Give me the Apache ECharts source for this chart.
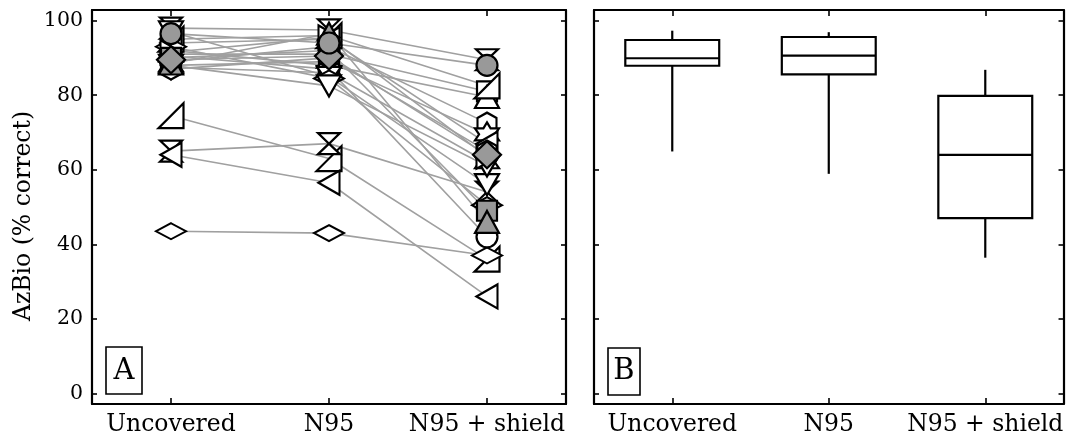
<!DOCTYPE html>
<html>
<head>
<meta charset="utf-8">
<script src="https://cdn.jsdelivr.net/npm/echarts/dist/echarts.min.js"></script>
<style>
html,body{margin:0;padding:0;background:#fff;}
#chart{width:1066px;height:441px;}
</style>
</head>
<body>
<div id="chart"></div>
<script>
// ---- data ----
const categories = ['Uncovered', 'N95', 'N95 + shield'];
const yTicks = [0, 20, 40, 60, 80, 100];
const yMin = -2.85;
const yMax = 102.85;

// Panel A: per-subject scores
const shapes    = ['hourglass','rightTri','hourglass','leftTri','diamondFlat','rect','triangle','rightTri','hexagon','star','downTri','circle','star','leftTri','diamondFlat','downTri','rightArrow','hexagon','rect','triangle','diamond','circle'];
const fills     = ['w','w','w','w','w','w','w','w','w','w','w','w','w','w','w','w','w','w','g','g','g','g'];
const uncovered = [98, 74.5, 65, 64, 43.5, 91, 92, 95, 89, 88, 97, 90.5, 87.5, 94, 93, 88, 91.5, 87, 90, 88.5, 89.5, 96.5];
const n95       = [97.5, 63, 67, 56.5, 43, 91, 88, 96, 93, 89, 85, 87, 86, 95, 84.5, 82.5, 95.5, 90, 92, 96.5, 90.5, 94];
const shield    = [89.5, 36, 54, 26, 37, 81, 79.5, 82.5, 72.5, 69.5, 56, 42, 62, 67, 50.5, 61, 63.5, 65, 49, 46, 64, 88];

// Panel B: box plot statistics
const boxMin = [64.9, 58.9, 36.4];
const boxQ1  = [87.9, 85.6, 47.0];
const boxMed = [89.9, 90.6, 64.0];
const boxQ3  = [94.8, 95.6, 79.8];
const boxMax = [97.3, 96.9, 86.8];

// ---- styles ----
const SERIF = '"DejaVu Serif", serif';
const symbolDefs = {
  circle:      { symbol: 'circle', size: [21, 21] },
  rect:        { symbol: 'rect', size: [20, 20] },
  diamond:     { symbol: 'diamond', size: [28, 27] },
  diamondFlat: { symbol: 'diamond', size: [30, 16] },
  triangle:    { symbol: 'triangle', size: [24, 22] },
  downTri:     { symbol: 'path://M0,0L10,0L5,10Z', size: [24, 21] },
  leftTri:     { symbol: 'path://M10,0L10,10L0,5Z', size: [21, 24] },
  rightArrow:  { symbol: 'path://M0,0L0,10L10,5Z', size: [21, 24] },
  rightTri:    { symbol: 'path://M10,0L10,10L0,10Z', size: [25, 25] },
  hourglass:   { symbol: 'path://M0,0L10,0L5,5L10,10L0,10L5,5Z', size: [22, 21] },
  hexagon:     { symbol: 'path://M5,0L10,2.5L10,7.5L5,10L0,7.5L0,2.5Z', size: [19, 21] },
  star:        { symbol: 'path://M5,0L6.5,2.5L10,2.5L8.3,5L10,7.5L6.5,7.5L5,10L3.5,7.5L0,7.5L1.7,5L0,2.5L3.5,2.5Z', size: [24, 24] }
};
const fillColor = { w: '#ffffff', g: '#999999' };

const series = [];
// connecting lines (behind markers)
for (let i = 0; i < uncovered.length; i++) {
  series.push({
    type: 'line', xAxisIndex: 0, yAxisIndex: 0, silent: true, z: 2,
    symbol: 'none',
    lineStyle: { color: '#a0a0a0', width: 1.6 },
    data: [[0, uncovered[i]], [1, n95[i]], [2, shield[i]]]
  });
}
// markers
const markerData = [];
for (let i = 0; i < uncovered.length; i++) {
  const d = symbolDefs[shapes[i]];
  [uncovered[i], n95[i], shield[i]].forEach((v, k) => {
    markerData.push({
      value: [k, v],
      symbol: d.symbol,
      symbolSize: d.size,
      itemStyle: { color: fillColor[fills[i]], borderColor: '#000', borderWidth: 2.2, opacity: 1 }
    });
  });
}
series.push({
  type: 'scatter', xAxisIndex: 0, yAxisIndex: 0, z: 3, silent: true,
  itemStyle: { opacity: 1 },
  data: markerData
});
// box plot
const boxData = categories.map((c, i) => [i, boxMin[i], boxQ1[i], boxMed[i], boxQ3[i], boxMax[i]]);
series.push({
  type: 'custom', xAxisIndex: 2, yAxisIndex: 2, silent: true,
  encode: { x: 0, y: [1, 2, 3, 4, 5] },
  data: boxData,
  renderItem: function (params, api) {
    const c = api.value(0);
    const top = api.coord([c, api.value(5)]);
    const q3 = api.coord([c, api.value(4)]);
    const med = api.coord([c, api.value(3)]);
    const q1 = api.coord([c, api.value(2)]);
    const bot = api.coord([c, api.value(1)]);
    const hw = api.size([1, 0])[0] * 0.3;
    const x = q3[0];
    const st = { stroke: '#000', lineWidth: 2.2, fill: null };
    return {
      type: 'group',
      children: [
        { type: 'line', shape: { x1: x, y1: top[1], x2: x, y2: q3[1] }, style: st },
        { type: 'line', shape: { x1: x, y1: q1[1], x2: x, y2: bot[1] }, style: st },
        { type: 'rect', shape: { x: x - hw, y: q3[1], width: 2 * hw, height: q1[1] - q3[1] }, style: { stroke: '#000', lineWidth: 2.2, fill: '#fff' } },
        { type: 'line', shape: { x1: x - hw, y1: med[1], x2: x + hw, y2: med[1] }, style: st }
      ]
    };
  }
});

// ---- axes ----
const axLine = { show: true, onZero: false, lineStyle: { color: '#000', width: 2.2 } };
function xAx(grid, pos, labels) {
  return {
    type: 'category', gridIndex: grid, position: pos, data: categories, boundaryGap: true,
    axisLine: axLine,
    axisTick: { show: true, inside: true, alignWithLabel: true, length: 6, lineStyle: { color: '#000', width: 1.6 } },
    axisLabel: labels ? { show: true, color: '#000', fontFamily: SERIF, fontSize: 23.5, margin: 9, interval: 0 } : { show: false },
    splitLine: { show: false }
  };
}
function yAx(grid, pos, labels) {
  return {
    type: 'value', gridIndex: grid, position: pos, min: yMin, max: yMax,
    axisLine: axLine,
    axisTick: { show: true, inside: true, length: 5, customValues: yTicks, lineStyle: { color: '#000', width: 1.6 } },
    axisLabel: labels ? { show: true, customValues: yTicks, color: '#000', fontFamily: SERIF, fontSize: 20.5, margin: 9 } : { show: false },
    splitLine: { show: false }
  };
}

const option = {
  animation: false,
  backgroundColor: '#fff',
  grid: [
    { left: 92, top: 10, width: 474, height: 394 },
    { left: 594, top: 10, width: 472, height: 394 }
  ],
  xAxis: [xAx(0, 'bottom', true), xAx(0, 'top', false), xAx(1, 'bottom', true), xAx(1, 'top', false)],
  yAxis: [yAx(0, 'left', true), yAx(0, 'right', false), yAx(1, 'left', false), yAx(1, 'right', false)],
  series: series,
  graphic: [
    { type: 'text', x: 24, y: 216, rotation: Math.PI / 2, z: 10,
      style: { text: 'AzBio (% correct)', fontFamily: SERIF, fontSize: 23.5, fill: '#000', align: 'center', verticalAlign: 'middle' } },
    { type: 'rect', z: 10, shape: { x: 106, y: 347, width: 36, height: 47 }, style: { stroke: '#000', lineWidth: 1.6, fill: '#fff' } },
    { type: 'text', z: 11, x: 124, y: 371, style: { text: 'A', fontFamily: SERIF, fontSize: 29, fill: '#000', align: 'center', verticalAlign: 'middle' } },
    { type: 'rect', z: 10, shape: { x: 608, y: 348, width: 32, height: 47 }, style: { stroke: '#000', lineWidth: 1.6, fill: '#fff' } },
    { type: 'text', z: 11, x: 624, y: 371.5, style: { text: 'B', fontFamily: SERIF, fontSize: 29, fill: '#000', align: 'center', verticalAlign: 'middle' } }
  ]
};

const chart = echarts.init(document.getElementById('chart'), null, { renderer: 'canvas' });
chart.setOption(option);
</script>
</body>
</html>
